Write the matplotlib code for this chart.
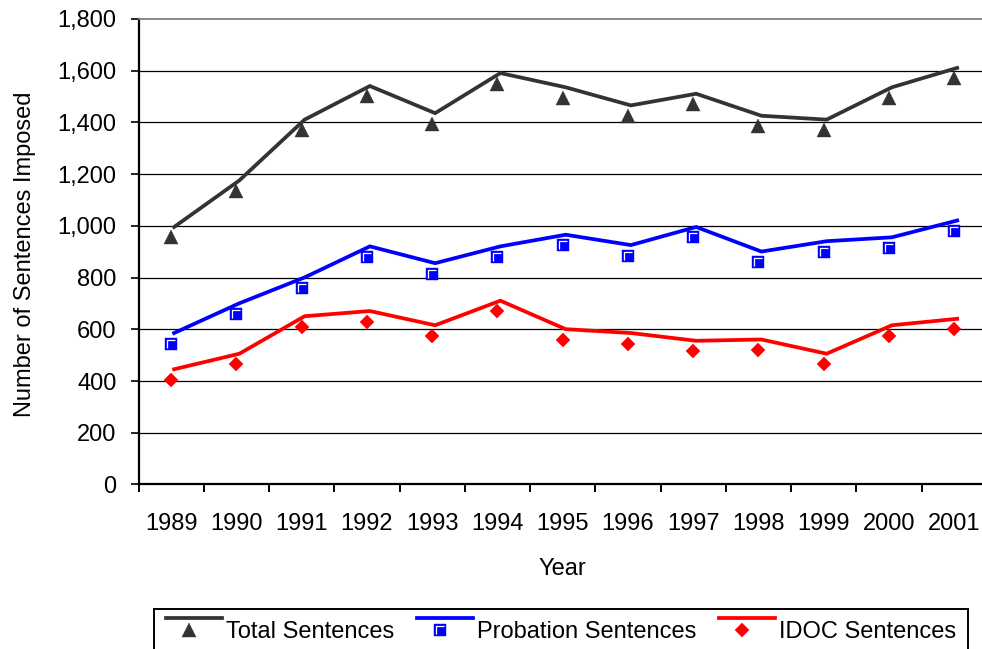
"""
Sentences imposed per year, 1989-2001 (total / probation / IDOC).
Excel-style line chart: the line is drawn a few pixels up-right of its markers,
as in the original rendering.
"""
import numpy as np
import matplotlib
matplotlib.use("Agg")
import matplotlib.pyplot as plt
from matplotlib.lines import Line2D
from matplotlib.path import Path
from matplotlib.transforms import ScaledTranslation
from matplotlib.ticker import FixedLocator, StrMethodFormatter
from matplotlib.legend_handler import HandlerLine2DCompound, HandlerTuple

plt.rcParams["font.family"] = ["Liberation Sans", "DejaVu Sans"]

years = ["1989", "1990", "1991", "1992", "1993", "1994", "1995",
         "1996", "1997", "1998", "1999", "2000", "2001"]
total = [955, 1135, 1370, 1500, 1395, 1550, 1495, 1425, 1470, 1385, 1370, 1495, 1570]
probation = [545, 660, 760, 880, 815, 880, 925, 885, 955, 860, 900, 915, 980]
idoc = [405, 465, 610, 630, 575, 670, 560, 545, 515, 520, 465, 575, 600]

FS = 17
C_TOT, C_PRO, C_IDOC = "#333333", "#0000ff", "#ff0000"
LW = 2.7

# white corner mark inside the probation squares
corner = Path([(-0.5, -0.5), (-0.5, 0.5), (0.5, 0.5)],
              [Path.MOVETO, Path.LINETO, Path.LINETO])
CORNER_MS = 5.2

fig = plt.figure(figsize=(9.82, 6.49), dpi=100)
ax = fig.add_axes([0.14104, 0.25347, 0.86385, 0.71741])
x = np.arange(len(years))

# the connecting lines sit ~3 px right / ~10.5 px above the markers
line_shift = ax.transData + ScaledTranslation(0.03, 0.105, fig.dpi_scale_trans)

series = [
    (total, C_TOT, "^", 10.6, "Total Sentences"),
    (probation, C_PRO, "s", 9.2, "Probation Sentences"),
    (idoc, C_IDOC, "D", 7.2, "IDOC Sentences"),
]
for vals, col, mk, ms, lab in series:
    ax.plot(x, vals, color=col, lw=LW, solid_joinstyle="miter",
            transform=line_shift, zorder=3, clip_on=False)
    ax.plot(x, vals, ls="none", marker=mk, ms=ms, mfc=col, mec=col, mew=0.3, zorder=4)
ax.plot(x, probation, ls="none", marker=corner, ms=CORNER_MS, mfc="none",
        mec="white", mew=0.9, zorder=5)

ax.set_xlim(-0.5, len(years) - 0.5)
ax.set_ylim(0, 1800)

# category axis: ticks between categories, labels centred
ax.xaxis.set_major_locator(FixedLocator(np.arange(-0.5, len(years), 1.0)))
ax.xaxis.set_minor_locator(FixedLocator(x))
ax.set_xticklabels([], minor=False)
ax.set_xticklabels(years, minor=True)
ax.tick_params(axis="x", which="major", direction="out", length=5.8, width=1.4, color="black")
ax.tick_params(axis="x", which="minor", length=0, pad=20.5, labelsize=FS)

ax.set_yticks(np.arange(0, 1801, 200))
ax.yaxis.set_major_formatter(StrMethodFormatter("{x:,.0f}"))
ax.tick_params(axis="y", direction="out", length=5.8, width=1.2, pad=10, labelsize=FS)

for yv in range(200, 1800, 200):
    ax.axhline(yv, color="black", lw=0.9, zorder=1)

ax.spines["right"].set_visible(False)
ax.spines["top"].set_color("#808080")
ax.spines["top"].set_linewidth(1.3)
ax.spines["left"].set_linewidth(1.6)
ax.spines["bottom"].set_linewidth(1.6)

ax.set_xlabel("Year", fontsize=FS)
ax.xaxis.set_label_coords(0.5, -0.158)
ax.set_ylabel("Number of Sentences Imposed", fontsize=FS)
ax.yaxis.set_label_coords(-0.1210, 0.494)


class ShiftedLine(HandlerLine2DCompound):
    """Legend entry with the line raised above its marker, as in the original."""
    def create_artists(self, legend, orig_handle, xdescent, ydescent,
                       width, height, fontsize, trans):
        line, mark = super().create_artists(legend, orig_handle, xdescent, ydescent,
                                            width, height, fontsize, trans)
        line.set_ydata(np.asarray(line.get_ydata()) + 0.47 * fontsize)
        mark.set_xdata(np.asarray(mark.get_xdata()) - 0.21 * fontsize)
        return [line, mark]


handles, hmap = [], {}
for vals, col, mk, ms, lab in series:
    h = Line2D([], [], color=col, lw=LW, marker=mk, ms=ms, mfc=col, mec=col, mew=0.3)
    hmap[h] = ShiftedLine(numpoints=1)
    if mk == "s":
        hc = Line2D([], [], ls="none", marker=corner, ms=CORNER_MS, mfc="none",
                    mec="white", mew=0.9)
        hmap[hc] = ShiftedLine(numpoints=1)
        handles.append((h, hc))
    else:
        handles.append(h)
hmap[tuple] = HandlerTuple(ndivide=1, pad=0)

leg = fig.legend(handles, [s[4] for s in series], handler_map=hmap,
                 loc="upper left", bbox_to_anchor=(154 / 982, 1 - 609 / 649),
                 ncol=3, fontsize=FS, frameon=True, fancybox=False, shadow=False,
                 edgecolor="black", framealpha=1, borderaxespad=0, borderpad=0.5,
                 handlelength=2.4, handletextpad=0.15, columnspacing=0.95)
leg.get_frame().set_linewidth(1.4)

fig.savefig("out.png", dpi=100)
